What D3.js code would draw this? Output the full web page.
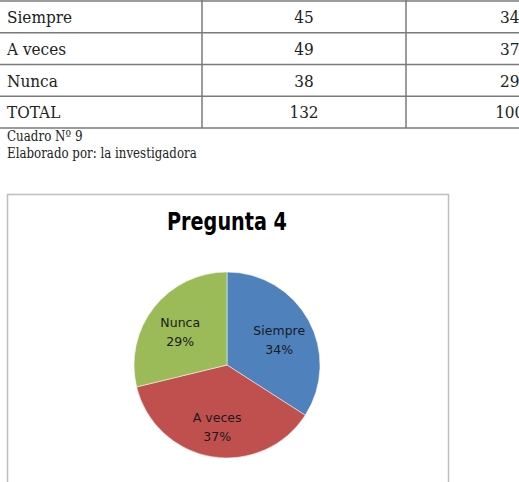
<!DOCTYPE html>
<html>
<head>
<meta charset="utf-8">
<script src="https://cdn.jsdelivr.net/npm/d3@7"></script>
<style>
  body { margin: 0; background: #fff; overflow: hidden; }
</style>
</head>
<body>
<script>
// table data
var categories = ["Siempre", "A veces", "Nunca"];
var counts = [45, 49, 38];
var percents = [34, 37, 29];
var totalLabel = "TOTAL";
var totalCount = 132;
var totalPercent = "100%";
var colors = ["#4F81BD", "#C0504D", "#9BBB59"];

var W = 519, H = 482;
var svg = d3.select("body").append("svg")
    .attr("width", W)
    .attr("height", H);

// squeeze a text horizontally, the source font is a narrow serif
function condense(sel, k) {
    sel.each(function () {
        var len = this.getComputedTextLength();
        d3.select(this)
            .attr("textLength", len * k)
            .attr("lengthAdjust", "spacingAndGlyphs");
    });
}

// --- table (top, cropped) ---
var rows = categories.map(function (c, i) {
    return [c, counts[i], percents[i]];
});
rows.push([totalLabel, totalCount, totalPercent]);

var rowY = d3.scaleBand().domain(d3.range(rows.length)).range([1, 128]);
var colX = [0, 202, 406, 628];
var serif = "DejaVu Serif, serif";

var table = svg.append("g");
var lineYs = d3.range(rows.length).map(function (i) { return rowY(i); });
lineYs.push(rowY(rows.length - 1) + rowY.bandwidth());
table.selectAll("line.h")
    .data(lineYs)
    .enter().append("line")
    .attr("x1", 0).attr("x2", W)
    .attr("y1", function (d) { return d; })
    .attr("y2", function (d) { return d; })
    .attr("stroke", "#7a7a7a")
    .attr("stroke-width", 1.5);
table.selectAll("line.v")
    .data([colX[1], colX[2]])
    .enter().append("line")
    .attr("x1", function (d) { return d; }).attr("x2", function (d) { return d; })
    .attr("y1", 0).attr("y2", 128)
    .attr("stroke", "#7a7a7a")
    .attr("stroke-width", 1.5);

var rowG = table.selectAll("g.row")
    .data(rows)
    .enter().append("g")
    .attr("transform", function (d, i) { return "translate(0," + (rowY(i) + rowY.bandwidth() / 2) + ")"; });

var t1 = rowG.append("text")
    .attr("x", 7)
    .attr("dy", "0.36em")
    .style("font-family", serif)
    .style("font-size", "17px")
    .attr("fill", "#222")
    .text(function (d) { return d[0]; });
var t2 = rowG.append("text")
    .attr("x", (colX[1] + colX[2]) / 2)
    .attr("dy", "0.36em")
    .attr("text-anchor", "middle")
    .style("font-family", serif)
    .style("font-size", "17px")
    .attr("fill", "#222")
    .text(function (d) { return d[1]; });
var t3 = rowG.append("text")
    .attr("x", (colX[2] + colX[3]) / 2)
    .attr("dy", "0.36em")
    .attr("text-anchor", "middle")
    .style("font-family", serif)
    .style("font-size", "17px")
    .attr("fill", "#222")
    .text(function (d) { return typeof d[2] === "number" ? d[2] + "%" : d[2]; });
condense(t1, 0.9);
condense(t2, 0.9);
condense(t3, 0.9);

// captions
var c1 = svg.append("text")
    .attr("x", 7).attr("y", 141)
    .style("font-family", serif)
    .style("font-size", "14px")
    .attr("fill", "#222")
    .text("Cuadro Nº 9");
var c2 = svg.append("text")
    .attr("x", 7).attr("y", 158)
    .style("font-family", serif)
    .style("font-size", "14px")
    .attr("fill", "#222")
    .text("Elaborado por: la investigadora");
condense(c1, 0.85);
condense(c2, 0.845);

// --- chart frame ---
svg.append("rect")
    .attr("x", 7.5).attr("y", 194.5)
    .attr("width", 441).attr("height", 300)
    .attr("fill", "#fff")
    .attr("stroke", "#bdbdbd")
    .attr("stroke-width", 1.5);

svg.append("text")
    .attr("x", 227).attr("y", 230)
    .attr("text-anchor", "middle")
    .attr("textLength", 120)
    .attr("lengthAdjust", "spacingAndGlyphs")
    .style("font-family", "DejaVu Sans, sans-serif")
    .style("font-weight", "bold")
    .style("font-size", "24px")
    .attr("fill", "#000")
    .text("Pregunta 4");

// --- pie ---
var cx = 227, cy = 365, r = 93;
var pie = d3.pie().sort(null).value(function (d) { return d; });
var arcs = pie(counts);
var arc = d3.arc().innerRadius(0).outerRadius(r);
var labelArc = d3.arc().innerRadius(r * 0.64).outerRadius(r * 0.64);

var pg = svg.append("g").attr("transform", "translate(" + cx + "," + cy + ")");
pg.selectAll("path")
    .data(arcs)
    .enter().append("path")
    .attr("d", arc)
    .attr("fill", function (d, i) { return colors[i]; })
    .attr("stroke", "#fff")
    .attr("stroke-width", 0.5);

var lab = pg.selectAll("g.lab")
    .data(arcs)
    .enter().append("text")
    .attr("transform", function (d) { var c = labelArc.centroid(d); return "translate(" + c[0] + "," + c[1] + ")"; })
    .attr("text-anchor", "middle")
    .style("font-family", "DejaVu Sans, sans-serif")
    .style("font-size", "12.5px")
    .attr("fill", "#1a1a1a");
lab.append("tspan").attr("x", 0).attr("dy", "-0.1em").text(function (d, i) { return categories[i]; });
lab.append("tspan").attr("x", 0).attr("dy", "1.5em").text(function (d, i) { return percents[i] + "%"; });
</script>
</body>
</html>
